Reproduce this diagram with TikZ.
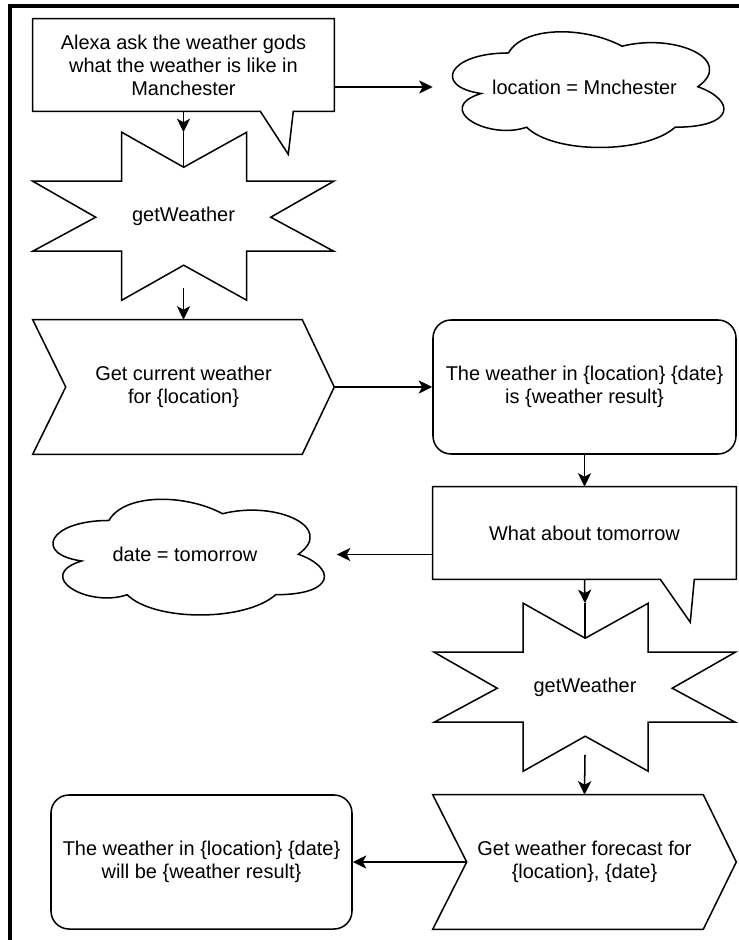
\documentclass[tikz,border=0pt]{standalone}
\usepackage{fontspec}
\setmainfont{Liberation Sans}
\usetikzlibrary{calc,arrows.meta}

% outline of a cloud in the box of node #1
\newcommand{\wxcloud}[1]{%
	\begin{scope}[shift={(#1.north west)},x=75.75mm,y=-33.75mm]
		\draw[shp] (0.25,0.25) .. controls (0.05,0.25) and (0,0.5) .. (0.16,0.55)
			.. controls (0,0.66) and (0.18,0.9) .. (0.31,0.8)
			.. controls (0.4,1) and (0.7,1) .. (0.8,0.8)
			.. controls (1,0.8) and (1,0.6) .. (0.875,0.5)
			.. controls (1,0.3) and (0.8,0.1) .. (0.625,0.2)
			.. controls (0.5,0.05) and (0.3,0.05) .. (0.25,0.25) -- cycle;
	\end{scope}}
% eight point star in the box of node #1
\newcommand{\wxstar}[1]{%
	\begin{scope}[shift={(#1.north west)}]
		\draw[shp] (89,0) -- (151,35) -- (214,0) -- (214,49) -- (301,49) -- (238,85)
			-- (301,119) -- (214,119) -- (214,168) -- (151,133) -- (89,168)
			-- (89,119) -- (0,119) -- (63,85) -- (0,49) -- (89,49) -- cycle;
	\end{scope}}

\tikzset{
	shp/.style={draw=black, line width=0.38mm},
	txt/.style={align=center, inner sep=0pt, font=\fontsize{14.2}{16.4}\selectfont},
	arr/.style={line width=0.38mm, -{Stealth[length=3.4mm,width=3.3mm,inset=0.9mm]}},
	frm/.style={line width=0.8mm},
}

\begin{document}
\begin{tikzpicture}[x=0.25mm,y=-0.25mm]
	\useasboundingbox (0,0) rectangle (739,940);
	%\draw[color=gray,step=10, help lines,opacity=0.3] (0,0) grid (739,940); %help grid
	\draw[frm] (10,940) -- (10,6) -- (739,6);

	% left column, top
	\node[txt, minimum width=75.25mm, minimum height=23mm] (ask1) at (183.5,65)
		{Alexa ask the weather gods\\what the weather is like in\\Manchester};
	\draw[shp] (ask1.north west) -- (ask1.north east) -- (ask1.south east) -- ++(-41,0)
		-- ++(-5,43) -- ++(-28,-43) -- (ask1.south west) -- cycle;
	\node[txt, minimum width=75.75mm, minimum height=33.75mm] (loc) at (584.5,87) {location = Mnchester};
	\wxcloud{loc}
	\node[txt, minimum width=75.25mm, minimum height=42mm] (wx1) at (183.5,216.5) {getWeather};
	\wxstar{wx1}
	\node[txt, minimum width=75.25mm, minimum height=33.5mm] (get1) at (183.5,387)
		{Get current weather\\for \{location\}};
	\draw[shp] (get1.north west) -- ($(get1.north east)+(-32,0)$) -- (get1.east)
		-- ($(get1.south east)+(-32,0)$) -- (get1.south west) -- ($(get1.west)+(33,0)$) -- cycle;

	% right column
	\node[txt, shp, rounded corners=4.5mm, minimum width=75.75mm, minimum height=33.5mm] (res1) at (584.5,387)
		{The weather in \{location\} \{date\}\\is \{weather result\}};
	\node[txt, minimum width=75.75mm, minimum height=23mm] (ask2) at (584.5,533) {What about tomorrow};
	\draw[shp] (ask2.north west) -- (ask2.north east) -- (ask2.south east) -- ++(-42,0)
		-- ++(-4,43) -- ++(-30,-43) -- (ask2.south west) -- cycle;
	\node[txt, minimum width=75.75mm, minimum height=33.75mm] (date) at (185,554.5) {date = tomorrow};
	\wxcloud{date}
	\node[txt, minimum width=75.25mm, minimum height=42mm] (wx2) at (585,687.5) {getWeather};
	\wxstar{wx2}
	\node[txt, minimum width=75.75mm, minimum height=33.5mm] (get2) at (584.5,862)
		{Get weather forecast for\\\{location\}, \{date\}};
	\draw[shp] (get2.north west) -- ($(get2.north east)+(-33,0)$) -- (get2.east)
		-- ($(get2.south east)+(-33,0)$) -- (get2.south west) -- ($(get2.west)+(34,0)$) -- cycle;
	\node[txt, shp, rounded corners=4.5mm, minimum width=75.25mm, minimum height=33.5mm] (res2) at (201.5,862)
		{The weather in \{location\} \{date\}\\will be \{weather result\}};

	% connectors
	\draw[arr] (ask1.east |- loc.west) -- (loc.west);
	\draw[arr] (ask1.south) -- (wx1.north);
	\draw[line width=0.38mm] (wx1.north) -- ++(0,34);
	\draw[arr] ($(wx1.south)+(0,-13)$) -- (get1.north);
	\draw[arr] (get1.east) -- (res1.west);
	\draw[arr] (res1.south) -- (ask2.north);
	\draw[arr] (ask2.west |- date.east) -- (date.east);
	\draw[arr] (ask2.south) -- (wx2.north);
	\draw[line width=0.38mm] (wx2.north) -- ++(0,35);
	\draw[arr] ($(wx2.south)+(0,-17)$) -- (get2.north);
	\draw[arr] ($(get2.west)+(34,0)$) -- (res2.east);
\end{tikzpicture}
\end{document}
